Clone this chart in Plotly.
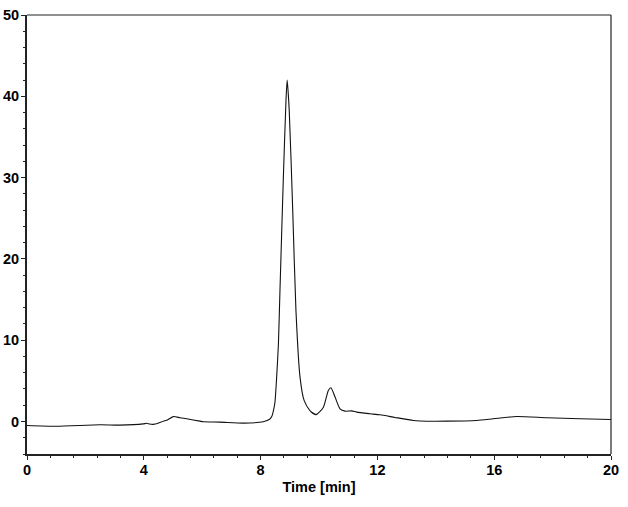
import plotly.graph_objects as go

time_min = [0.0, 1.0, 2.5, 3.18, 3.98, 4.1, 4.2, 4.33, 4.44, 4.67, 4.78, 5.01, 5.24, 5.47, 5.92, 6.04,
            6.6, 7.41, 8.09, 8.32, 8.38, 8.44, 8.49, 8.55, 8.61, 8.66, 8.78, 8.87, 8.91, 8.98,
            9.10, 9.21, 9.35, 9.49, 9.69, 9.9, 10.15, 10.32, 10.41, 10.55, 10.72, 10.89, 11.12,
            11.29, 11.75, 12.09, 12.6, 13.23, 13.46, 14.37, 15.4, 15.97, 16.77, 17.8, 18.94, 20.0]
signal = [-0.49, -0.58, -0.41, -0.45, -0.3, -0.22, -0.32, -0.35, -0.29, 0.04, 0.14, 0.6, 0.46, 0.33, 0.04, -0.04,
          -0.08, -0.2, -0.04, 0.3, 0.6, 1.35, 2.3, 5.46, 9.5, 15.7, 30.1, 39.5, 42.0, 38.3,
          26.0, 13.7, 5.46, 2.59, 1.35, 0.84, 1.76, 3.82, 4.15, 3.0, 1.56, 1.27, 1.3,
          1.15, 0.95, 0.82, 0.5, 0.12, 0.06, 0.04, 0.12, 0.33, 0.62, 0.46, 0.33, 0.25]

x_ticks = [0, 4, 8, 12, 16, 20]
y_ticks = [0, 10, 20, 30, 40, 50]

fig = go.Figure()
fig.add_trace(go.Scatter(x=time_min, y=signal, mode="lines",
                         line=dict(color="#111111", width=1.1, shape="spline", smoothing=0.6),
                         showlegend=False, hoverinfo="skip"))

fig.update_layout(
    width=628, height=507,
    margin=dict(l=27, r=17, t=15, b=53),
    paper_bgcolor="white", plot_bgcolor="white",
    font=dict(family="Liberation Sans, Arial", color="black"),
    xaxis=dict(range=[0, 20], tickvals=x_ticks, ticktext=[str(v) for v in x_ticks], automargin=False,
               ticks="outside", ticklen=4, tickwidth=1, tickcolor="#222", ticklabelstandoff=-2,
               showgrid=False, zeroline=False, showline=True, linewidth=2, linecolor="#222",
               tickfont=dict(family="Liberation Sans, Arial", size=14.5, color="black", weight="bold"),
               minor=dict(dtick=0.8, tick0=0, ticks="outside", ticklen=2, tickcolor="#222"),
               title=dict(text="<b>Time [min]</b>", font=dict(size=14.5, color="black"), standoff=4)),
    yaxis=dict(range=[-4, 50], tickvals=y_ticks, ticktext=[str(v) for v in y_ticks], automargin=False,
               ticks="outside", ticklen=4, tickwidth=1, tickcolor="#222", ticklabelstandoff=-1,
               showgrid=False, zeroline=False, showline=True, linewidth=2, linecolor="#222",
               tickfont=dict(family="Liberation Sans, Arial", size=14.5, color="black", weight="bold"),
               minor=dict(dtick=2, tick0=0, ticks="outside", ticklen=2, tickcolor="#222")),
)
fig.add_shape(type="line", xref="paper", yref="paper", x0=0, x1=1, y0=1, y1=1, line=dict(color="#222", width=1.2))
fig.add_shape(type="line", xref="paper", yref="paper", x0=1, x1=1, y0=0, y1=1, line=dict(color="#222", width=1.2))
fig.write_html("out.html")
